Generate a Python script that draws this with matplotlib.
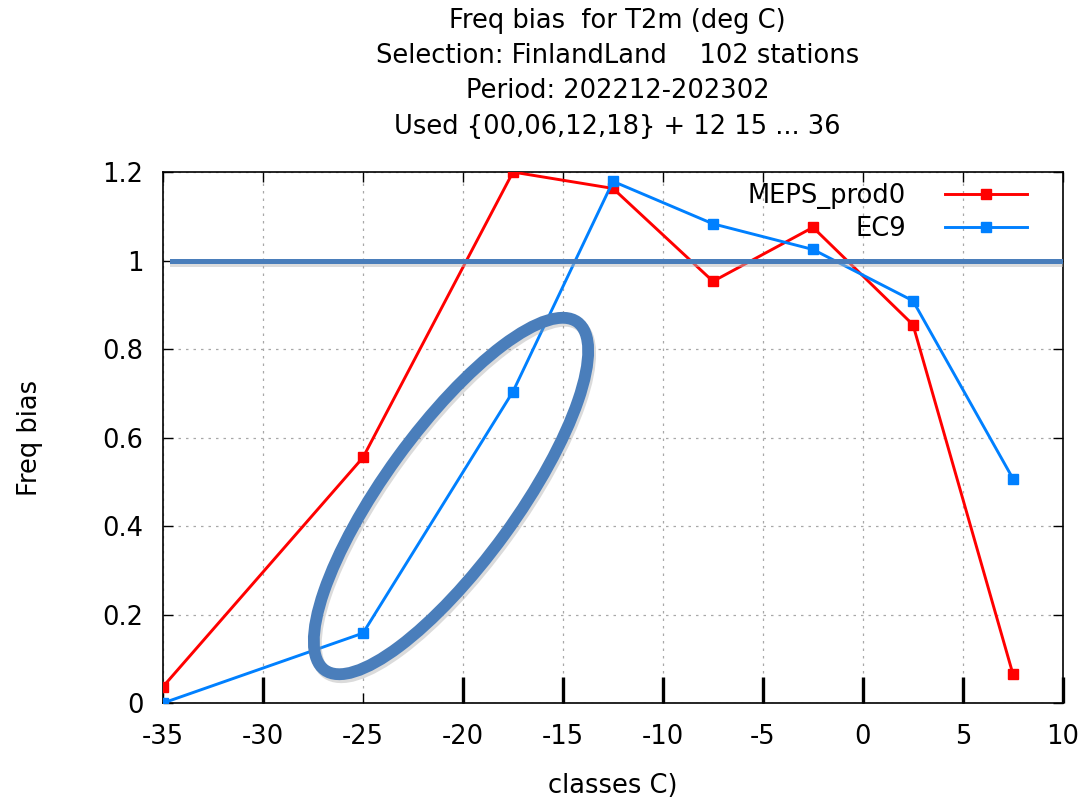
import numpy as np
import matplotlib
matplotlib.use("Agg")
import matplotlib.pyplot as plt
from matplotlib.patches import Ellipse

# class midpoints (deg C)
classes = [-35, -25, -17.5, -12.5, -7.5, -2.5, 2.5, 7.5]
meps_prod0 = [0.037, 0.555, 1.2, 1.163, 0.953, 1.075, 0.855, 0.065]
ec9 = [0.0, 0.158, 0.704, 1.179, 1.083, 1.025, 0.909, 0.507]

xticks = [-35, -30, -25, -20, -15, -10, -5, 0, 5, 10]
xticks_bold = [-30, -20, -15, -10, -5, 0, 5, 10]
yticks = [0, 0.2, 0.4, 0.6, 0.8, 1.0, 1.2]
ytick_labels = ["0", "0.2", "0.4", "0.6", "0.8", "1", "1.2"]

title_lines = [
    "Freq bias  for T2m (deg C)",
    "Selection: FinlandLand    102 stations",
    "Period: 202212-202302",
    "Used {00,06,12,18} + 12 15 ... 36",
]

plt.rcParams["font.family"] = "DejaVu Sans"
plt.rcParams["axes.unicode_minus"] = False
fs = 18.5

fig = plt.figure(figsize=(10.89, 8.01), dpi=100)
ax = fig.add_axes([0.1497, 0.1223, 0.8264, 0.6629])

red = "#ff0000"
blue = "#0080ff"
note = "#4a7ebb"

ax.plot(classes, meps_prod0, color=red, lw=2.1, marker="s", ms=7,
        label="MEPS_prod0", zorder=3)
ax.plot(classes, ec9, color=blue, lw=2.1, marker="s", ms=7,
        label="EC9", zorder=3)

ax.set_xlim(-35, 10)
ax.set_ylim(0, 1.2)
ax.set_xticks(xticks)
ax.set_xticks(xticks_bold, minor=True)
ax.xaxis.remove_overlapping_locs = False
ax.set_yticks(yticks)
ax.set_yticklabels(ytick_labels)
ax.grid(True, which="major", color="#a8a8a8", linestyle=(0, (2, 4)), lw=0.9)
ax.tick_params(axis="both", which="major", labelsize=fs, direction="in",
               length=7, width=1, top=True, right=True)
ax.tick_params(axis="x", which="major", pad=15)
ax.tick_params(axis="y", which="major", pad=14)
ax.tick_params(axis="x", which="minor", direction="in", bottom=True,
               top=False, length=19, width=2.4)
for s in ax.spines.values():
    s.set_linewidth(1.2)

ax.set_xlabel("classes C)", fontsize=fs, labelpad=17)
ax.set_ylabel("Freq bias", fontsize=fs, labelpad=43)

fig.text(0.567, 0.99, "\n".join(title_lines), ha="center", va="top",
         fontsize=fs, linespacing=1.46)

leg = ax.legend(loc="upper right", bbox_to_anchor=(0.960, 0.980),
                borderaxespad=0, borderpad=0,
                frameon=False, markerfirst=False, fontsize=fs,
                handlelength=3.2, handletextpad=1.5, labelspacing=0.3)
for t in leg.get_texts():
    t.set_ha("right")

# annotation overlay: reference line and ellipse
ax.axhline(0.993, xmin=0.01, xmax=1.0, color="#bbbbbb", lw=3.6, alpha=0.5,
           zorder=4)
ax.axhline(1.0, xmin=0.01, xmax=1.0, color=note, lw=3.6, zorder=5)

shadow = Ellipse((4.53, 3.02), 4.30, 1.32, angle=54, fill=False,
                 lw=8.5, edgecolor="#999999", alpha=0.35,
                 transform=fig.dpi_scale_trans, zorder=5)
fig.add_artist(shadow)
ell = Ellipse((4.51, 3.05), 4.30, 1.32, angle=54, fill=False,
              lw=8.5, edgecolor=note, transform=fig.dpi_scale_trans, zorder=6)
fig.add_artist(ell)

fig.savefig("out.png", dpi=100)
